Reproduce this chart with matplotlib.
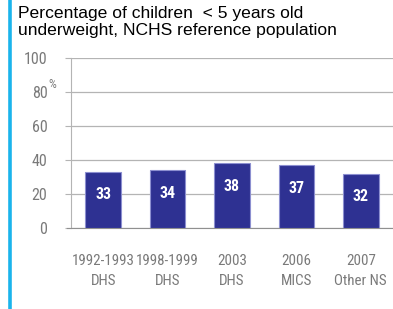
import matplotlib
matplotlib.use("Agg")
import matplotlib.pyplot as plt
from matplotlib import font_manager

# data
SURVEYS = ["1992-1993\nDHS", "1998-1999\nDHS", "2003\nDHS", "2006\nMICS", "2007\nOther NS"]
UNDERWEIGHT = [33, 34, 38, 37, 32]
Y_TICKS = [0, 20, 40, 60, 80, 100]

TITLE = "Percentage of children  < 5 years old\nunderweight, NCHS reference population"
BAR_COLOUR = "#2e3192"
BAR_EDGE = "#8c8fd0"
GRID_COLOUR = "#b4b4b4"
TICK_COLOUR = "#7a7a7a"
SIDE_COLOUR = "#1ab4ec"

names = {f.name for f in font_manager.fontManager.ttflist}
NARROW = "Roboto"
for cand in ["Roboto Condensed", "Liberation Sans Narrow"]:
    if cand in names:
        NARROW = cand
        break

fig = plt.figure(figsize=(3.93, 3.09), dpi=100)
ax = fig.add_axes([71 / 393, 81 / 309, 322 / 393, 170 / 309])

x = range(len(SURVEYS))
ax.bar(x, UNDERWEIGHT, width=0.55, color=BAR_COLOUR, edgecolor=BAR_EDGE, linewidth=0.8, zorder=3)
for i, v in zip(x, UNDERWEIGHT):
    ax.text(i, v - 13.5, str(v), ha="center", va="center", color="white",
            fontsize=11.5, fontweight="bold", family=NARROW, zorder=4)

ax.set_xlim(-0.5, 4.5)
ax.set_ylim(0, 100)
ax.set_yticks(Y_TICKS)
ax.set_xticks(list(x))
ax.set_xticklabels(SURVEYS, family=NARROW, fontsize=10.8, color=TICK_COLOUR, linespacing=1.55)
ax.set_yticklabels([str(t) for t in Y_TICKS], family=NARROW, fontsize=11.5, color=TICK_COLOUR)
ax.yaxis.grid(True, color=GRID_COLOUR, linewidth=0.9, zorder=0)
ax.tick_params(axis="y", length=4, color=GRID_COLOUR, pad=13)
ax.tick_params(axis="x", length=0, pad=19)
for s in ["top", "right"]:
    ax.spines[s].set_visible(False)
ax.spines["left"].set_color(GRID_COLOUR)
ax.spines["bottom"].set_color("#909090")
ax.spines["bottom"].set_bounds(-0.56, 4.5)

fig.text(48 / 393, 1 - 85 / 309, "%", family=NARROW, fontsize=9, color=TICK_COLOUR,
         ha="left", va="center")
fig.text(18 / 393, 1 - 22 / 309, TITLE, fontsize=12.6, family="Liberation Sans",
         ha="left", va="center", linespacing=1.12)
fig.add_artist(plt.Line2D([9.5 / 393, 9.5 / 393], [0, 1], color=SIDE_COLOUR, linewidth=2.6))

fig.savefig("out.png", dpi=100)
